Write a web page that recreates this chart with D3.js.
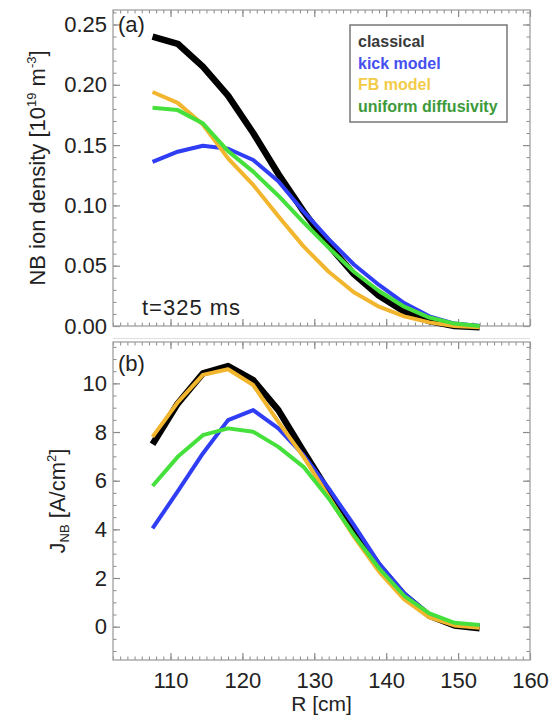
<!DOCTYPE html>
<html>
<head>
<meta charset="utf-8">
<script src="https://cdn.jsdelivr.net/npm/d3@7"></script>
<style>
  html, body { margin: 0; padding: 0; background: #fff; }
  svg { display: block; }
  text { font-family: "Liberation Sans", Arial, Helvetica, sans-serif; fill: #222; }
</style>
</head>
<body>
<script>
// Major radius grid (cm)
const radius = [107.5, 111, 114.5, 118, 121.5, 125, 128.5, 132, 135.5, 139, 142.5, 146, 149.5, 153];

// Panel (a): NB ion density [1e19 m^-3]
const densClassical = [0.240, 0.234, 0.215, 0.191, 0.160, 0.126, 0.095, 0.067, 0.043, 0.025, 0.012, 0.004, 0.000, -0.001];
const densKick      = [0.136, 0.1445, 0.1495, 0.147, 0.1376, 0.120, 0.095, 0.072, 0.051, 0.034, 0.019, 0.008, 0.002, 0.000];
const densFB        = [0.194, 0.185, 0.167, 0.139, 0.117, 0.091, 0.066, 0.045, 0.028, 0.016, 0.008, 0.003, 0.000, -0.001];
const densUniform   = [0.181, 0.179, 0.168, 0.145, 0.128, 0.108, 0.086, 0.065, 0.045, 0.029, 0.016, 0.007, 0.002, 0.000];

// Panel (b): J_NB [A/cm^2]
const jClassical = [7.50, 9.17, 10.41, 10.71, 10.13, 8.90, 7.20, 5.55, 3.95, 2.50, 1.30, 0.45, 0.05, -0.07];
const jKick      = [4.04, 5.56, 7.12, 8.49, 8.90, 8.15, 7.05, 5.68, 4.18, 2.60, 1.37, 0.50, 0.12, 0.05];
const jFB        = [7.80, 9.22, 10.35, 10.58, 9.93, 8.42, 6.98, 5.34, 3.70, 2.26, 1.12, 0.38, 0.05, -0.05];
const jUniform   = [5.78, 6.98, 7.87, 8.15, 8.01, 7.39, 6.57, 5.27, 3.77, 2.40, 1.27, 0.55, 0.16, 0.07];

// Series metadata
const seriesNames  = ["classical", "kick model", "FB model", "uniform diffusivity"];
const lineColors   = ["#000000", "#2f3ef5", "#f2b62e", "#46e03c"];
const legendColors = ["#3a3a3a", "#4650f0", "#f2cb48", "#3d9a3a"];
const lineWidths   = [6.5, 4, 4, 4];

// Tick values
const xMajor = [110, 120, 130, 140, 150, 160];
const xMinor = d3.range(102, 161, 1);
const yMajorA = [0, 0.05, 0.10, 0.15, 0.20, 0.25];
const yMinorA = d3.range(0, 0.2601, 0.01);
const yMajorB = [0, 2, 4, 6, 8, 10];
const yMinorB = d3.range(-1, 11.51, 0.5);

const W = 557, H = 717;
const left = 113, right = 530;

const svg = d3.select("body").append("svg").attr("width", W).attr("height", H);

const x = d3.scaleLinear().domain([102, 160]).range([left, right]);

function drawPanel(cfg) {
  const y = d3.scaleLinear().domain(cfg.yDomain).range([cfg.bottom, cfg.top]);
  const g = svg.append("g");
  const tickCol = "#8a8a8a";

  // Minor ticks on all four sides (inward)
  const minorAxes = [
    [d3.axisLeft(y).tickValues(cfg.yMinor), `translate(${left},0)`],
    [d3.axisRight(y).tickValues(cfg.yMinor), `translate(${right},0)`],
    [d3.axisBottom(x).tickValues(xMinor), `translate(0,${cfg.bottom})`],
    [d3.axisTop(x).tickValues(xMinor), `translate(0,${cfg.top})`]
  ];
  minorAxes.forEach(([ax, tr]) => {
    const a = g.append("g").attr("transform", tr)
      .call(ax.tickSize(-3.5).tickFormat(""));
    a.select(".domain").remove();
    a.selectAll("line").attr("stroke", tickCol).attr("stroke-width", 1);
  });

  // Major ticks
  const yl = g.append("g").attr("transform", `translate(${left},0)`)
    .call(d3.axisLeft(y).tickValues(cfg.yMajor).tickSize(-7).tickPadding(6).tickFormat(cfg.yFmt));
  const yr = g.append("g").attr("transform", `translate(${right},0)`)
    .call(d3.axisRight(y).tickValues(cfg.yMajor).tickSize(-7).tickFormat(""));
  const xb = g.append("g").attr("transform", `translate(0,${cfg.bottom})`)
    .call(d3.axisBottom(x).tickValues(xMajor).tickSize(-7).tickPadding(12)
      .tickFormat(cfg.xLabels ? d3.format("d") : ""));
  const xt = g.append("g").attr("transform", `translate(0,${cfg.top})`)
    .call(d3.axisTop(x).tickValues(xMajor).tickSize(-7).tickFormat(""));
  [yl, yr, xb, xt].forEach(a => {
    a.select(".domain").remove();
    a.selectAll("line").attr("stroke", tickCol).attr("stroke-width", 1.2);
    a.selectAll("text").attr("font-size", 22).attr("fill", "#222")
      .style("font-family", '"Liberation Sans", Arial, Helvetica, sans-serif');
  });

  // Frame
  g.append("rect")
    .attr("x", left).attr("y", cfg.top)
    .attr("width", right - left).attr("height", cfg.bottom - cfg.top)
    .attr("fill", "none").attr("stroke", "#a0a0a0").attr("stroke-width", 1.3);

  // Curves
  const line = d3.line()
    .x((d, i) => x(radius[i]))
    .y(d => y(d))
    .curve(d3.curveLinear);
  cfg.series.forEach((vals, k) => {
    g.append("path")
      .datum(vals)
      .attr("d", line)
      .attr("fill", "none")
      .attr("stroke", lineColors[k])
      .attr("stroke-width", lineWidths[k])
      .attr("stroke-linejoin", "round")
      .attr("stroke-linecap", "butt");
  });

  // Panel tag
  g.append("text").attr("x", left + 5).attr("y", cfg.top + cfg.tagDy)
    .attr("font-size", 22).text(cfg.tag);
  return { g, y };
}

const pa = drawPanel({
  top: 10, bottom: 326, yDomain: [0, 0.262],
  yMajor: yMajorA, yMinor: yMinorA, yFmt: d3.format(".2f"),
  xLabels: false,
  series: [densClassical, densKick, densFB, densUniform],
  tag: "(a)", tagDy: 22
});

const pb = drawPanel({
  top: 342, bottom: 660, yDomain: [-1.37, 11.7],
  yMajor: yMajorB, yMinor: yMinorB, yFmt: d3.format("d"),
  xLabels: true,
  series: [jClassical, jKick, jFB, jUniform],
  tag: "(b)", tagDy: 29
});

// Thin separator under panel (a)
svg.append("line").attr("x1", left).attr("x2", right).attr("y1", 338.5).attr("y2", 338.5)
  .attr("stroke", "#dedede").attr("stroke-width", 1);

// Time stamp in panel (a)
svg.append("text").attr("x", 142).attr("y", 315).attr("font-size", 22)
  .attr("letter-spacing", 1).text("t=325 ms");

// Legend
const lg = svg.append("g");
lg.append("rect").attr("x", 350).attr("y", 25).attr("width", 157).attr("height", 97)
  .attr("fill", "#fff").attr("stroke", "#777").attr("stroke-width", 1.5);
seriesNames.forEach((name, i) => {
  lg.append("text").attr("x", 358).attr("y", 47 + i * 21.7)
    .attr("font-size", 16).attr("font-weight", "bold")
    .style("fill", legendColors[i]).text(name);
});

// Axis titles
const ta = svg.append("text")
  .attr("transform", "translate(45,168) rotate(-90)")
  .attr("text-anchor", "middle").attr("font-size", 22);
ta.append("tspan").text("NB ion density [10");
ta.append("tspan").attr("dy", -9).attr("font-size", 13).text("19");
ta.append("tspan").attr("dy", 9).text(" m");
ta.append("tspan").attr("dy", -9).attr("font-size", 13).text("-3");
ta.append("tspan").attr("dy", 9).text("]");

const tb = svg.append("text")
  .attr("transform", "translate(65,501) rotate(-90)")
  .attr("text-anchor", "middle").attr("font-size", 22);
tb.append("tspan").text("J");
tb.append("tspan").attr("dy", 4).attr("font-size", 13).text("NB");
tb.append("tspan").attr("dy", -4).text(" [A/cm");
tb.append("tspan").attr("dy", -9).attr("font-size", 13).text("2");
tb.append("tspan").attr("dy", 9).text("]");

svg.append("text").attr("x", (left + right) / 2).attr("y", 711)
  .attr("text-anchor", "middle").attr("font-size", 21).text("R [cm]");
</script>
</body>
</html>
